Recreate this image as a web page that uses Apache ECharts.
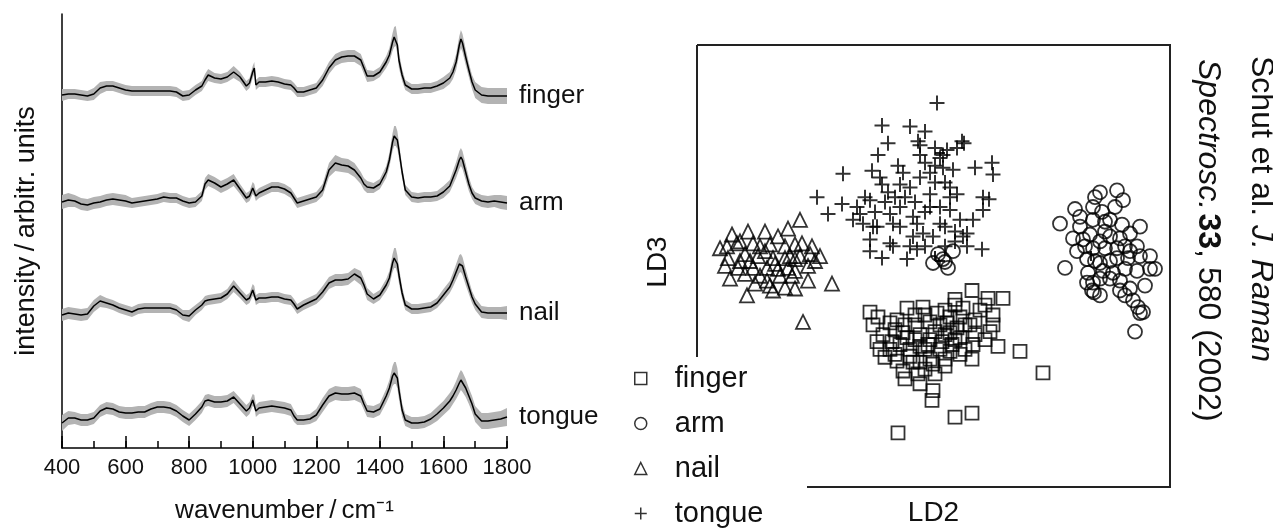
<!DOCTYPE html>
<html>
<head>
<meta charset="utf-8">
<title>Raman spectra of skin sites and LDA scores</title>
<script src="https://cdn.jsdelivr.net/npm/echarts@6/dist/echarts.min.js"></script>
<style>
  html, body { margin: 0; padding: 0; background: #fff; }
  #chart { width: 1273px; height: 532px; }
</style>
</head>
<body>
<div id="chart"></div>
<script>
// ---------------------------- DATA ----------------------------
// shared wavenumber grid of the mean spectra (cm-1)
var wavenumbers = [
  400, 420, 440, 460, 480, 500, 520, 540, 560, 580,
  600, 620, 640, 660, 680, 700, 720, 740, 760, 780,
  800, 820, 840, 850, 860, 880, 900, 920, 940, 960,
  980, 990, 1000, 1005, 1010, 1020, 1040, 1060, 1080, 1100,
  1120, 1130, 1140, 1160, 1180, 1200, 1220, 1240, 1260, 1280,
  1300, 1320, 1340, 1350, 1360, 1380, 1400, 1420, 1430, 1440,
  1445, 1450, 1455, 1460, 1470, 1480, 1500, 1520, 1540, 1560,
  1580, 1600, 1620, 1630, 1640, 1650, 1655, 1660, 1670, 1680,
  1690, 1700, 1720, 1740, 1760, 1780, 1800
];

// mean intensity (arbitr. units) and spread of each site
var fingerMean = [
  5, 6, 6, 5, 4, 6, 12, 14, 14, 12,
  10, 9, 9, 9, 9, 9, 9, 9, 8, 4,
  5, 10, 14, 20, 25, 22, 21, 23, 28, 23,
  14, 17, 28, 32, 15, 18, 18, 19, 18, 16,
  15, 12, 8, 8, 10, 12, 20, 32, 40, 43,
  44, 44, 40, 32, 24, 24, 28, 38, 45, 58,
  63, 64, 55, 40, 25, 15, 11, 11, 12, 12,
  14, 17, 22, 28, 38, 55, 61, 57, 43, 30,
  18, 10, 5, 4, 4, 4, 4
];
var fingerSpread = [
  6, 5, 5, 5, 5, 6, 6, 5, 5, 5,
  5, 5, 5, 5, 5, 5, 5, 5, 5, 5,
  5, 5, 5, 6, 6, 5, 5, 5, 6, 5,
  5, 5, 6, 6, 5, 5, 5, 5, 5, 5,
  5, 5, 5, 5, 5, 5, 6, 6, 6, 6,
  6, 6, 6, 6, 6, 5, 5, 6, 7, 9,
  10, 10, 9, 8, 6, 5, 5, 5, 5, 5,
  5, 6, 6, 7, 8, 9, 9, 9, 8, 7,
  7, 8, 8, 8, 8, 8, 8
];
var armMean = [
  8, 10, 9, 6, 5, 7, 8, 10, 11, 10,
  9, 7, 8, 9, 10, 11, 13, 12, 12, 9,
  7, 8, 14, 26, 30, 27, 23, 26, 30, 21,
  12, 14, 22, 20, 14, 17, 20, 23, 23, 21,
  17, 12, 7, 9, 11, 13, 20, 40, 47, 45,
  44, 40, 32, 26, 23, 22, 26, 38, 50, 68,
  74, 74, 70, 60, 38, 20, 13, 12, 13, 13,
  14, 18, 24, 32, 40, 50, 53, 50, 38, 26,
  17, 12, 9, 8, 9, 8, 7
];
var armSpread = [
  7, 7, 6, 6, 6, 6, 6, 6, 6, 6,
  6, 5, 5, 5, 5, 5, 5, 5, 5, 5,
  5, 5, 5, 6, 6, 6, 6, 6, 6, 5,
  5, 5, 6, 6, 5, 5, 5, 5, 5, 5,
  5, 5, 5, 5, 5, 5, 6, 7, 8, 7,
  7, 7, 6, 6, 6, 5, 5, 6, 7, 9,
  10, 10, 9, 8, 6, 5, 5, 5, 5, 5,
  5, 6, 6, 7, 8, 9, 9, 9, 8, 7,
  6, 6, 6, 6, 6, 7, 7
];
var nailMean = [
  5, 7, 6, 5, 6, 14, 19, 17, 15, 12,
  10, 8, 11, 12, 12, 12, 12, 12, 10, 5,
  4, 10, 15, 19, 20, 21, 22, 26, 34, 27,
  20, 22, 30, 28, 20, 22, 22, 23, 23, 21,
  20, 16, 11, 15, 18, 21, 28, 37, 40, 40,
  41, 46, 42, 35, 26, 21, 25, 35, 42, 57,
  62, 62, 56, 45, 27, 15, 11, 11, 12, 13,
  17, 25, 33, 40, 48, 56, 57, 54, 43, 33,
  23, 16, 8, 7, 7, 7, 7
];
var nailSpread = [
  6, 6, 6, 6, 6, 6, 6, 5, 5, 5,
  5, 5, 5, 5, 5, 5, 5, 5, 5, 5,
  6, 5, 5, 5, 5, 5, 5, 5, 6, 5,
  5, 5, 6, 6, 5, 5, 5, 5, 5, 5,
  5, 5, 5, 5, 5, 5, 6, 6, 6, 6,
  6, 6, 7, 6, 6, 5, 5, 6, 7, 9,
  10, 10, 9, 8, 6, 5, 5, 5, 5, 5,
  5, 6, 6, 7, 8, 9, 9, 9, 8, 7,
  6, 6, 6, 6, 6, 6, 7
];
var tongueMean = [
  7, 12, 12, 10, 10, 12, 19, 22, 21, 18,
  17, 17, 18, 18, 21, 23, 23, 22, 19, 14,
  10, 16, 23, 29, 30, 28, 28, 29, 33, 26,
  19, 22, 30, 29, 19, 22, 23, 24, 23, 22,
  20, 14, 10, 10, 11, 15, 25, 34, 37, 36,
  36, 37, 34, 26, 19, 18, 21, 34, 42, 54,
  57, 57, 52, 40, 20, 10, 7, 7, 8, 11,
  16, 22, 29, 34, 40, 47, 50, 48, 42, 34,
  26, 16, 9, 9, 10, 11, 13
];
var tongueSpread = [
  8, 7, 6, 6, 6, 6, 6, 6, 6, 6,
  6, 6, 6, 6, 6, 6, 6, 6, 6, 6,
  6, 6, 6, 6, 6, 6, 6, 6, 6, 6,
  6, 6, 6, 6, 6, 6, 6, 6, 6, 6,
  6, 6, 5, 5, 5, 6, 7, 7, 7, 7,
  7, 7, 7, 6, 6, 6, 6, 7, 8, 10,
  11, 11, 10, 9, 7, 6, 6, 6, 6, 6,
  7, 7, 8, 8, 9, 10, 10, 10, 9, 8,
  8, 8, 8, 8, 8, 8, 9
];

var siteNames = ['finger', 'arm', 'nail', 'tongue'];
// vertical offsets used to stack the spectra
var siteOffsets = [348, 238, 128, 18];

var ld2TickValues = [0, 15.6];
var ld3TickValues = [0, 11];

// discriminant scores [LD2, LD3]
var fingerScores = [
  [3.7, -3.0], [5.3, -3.8], [6.8, -3.8], [2.0, -3.9], [-6.5, -5.2], [-2.8, -4.8],
  [-1.2, -4.7], [0.2, -5.3], [2.8, -4.8], [5.8, -5.5], [4.5, -5.0], [1.5, -5.7],
  [-6.2, -6.5], [-3.8, -6.0], [-2.0, -6.5], [-0.5, -6.2], [1.2, -6.3], [2.2, -6.8],
  [3.0, -6.5], [5.5, -7.2], [-5.2, -7.5], [-3.2, -7.3], [-1.5, -7.5], [0.0, -7.2],
  [1.5, -7.3], [-5.8, -8.2], [-4.3, -8.2], [-2.8, -7.8], [-0.7, -8.5], [0.7, -8.2],
  [1.7, -8.5], [2.5, -7.8], [3.8, -8.5], [6.3, -8.7], [8.5, -9.2], [-5.0, -9.8],
  [-3.8, -10.2], [-2.2, -10.3], [-0.5, -10.0], [-0.2, -10.5], [1.0, -10.0], [2.5, -9.5],
  [3.7, -10.0], [-3.2, -11.2], [-1.7, -11.5], [0.0, -11.5], [-0.2, -13.2], [-0.3, -14.2],
  [2.0, -15.9], [3.7, -15.5], [-3.7, -17.5], [10.8, -11.4], [-2.0, -8.0], [-1.0, -9.0],
  [0.5, -9.0], [2.0, -8.0], [1.0, -7.5], [-0.5, -8.0], [-1.5, -8.7], [-2.5, -9.0],
  [-3.5, -8.5], [-4.5, -9.0], [-5.5, -9.0], [-3.0, -6.5], [-1.0, -5.5], [1.0, -5.0],
  [2.5, -5.7], [0.5, -6.5], [-2.0, -5.5], [1.5, -9.2], [3.0, -9.0], [4.0, -7.5],
  [5.0, -8.0], [-4.0, -9.5], [-2.5, -9.7], [-1.5, -10.3], [1.0, -10.7], [-1.0, -11.0],
  [-4.0, -7.0], [-5.7, -5.7], [2.0, -4.5], [4.0, -6.0], [5.0, -4.5], [-3.0, -12.0],
  [-1.5, -12.5], [3.5, -6.5], [-4.5, -6.3], [5.8, -6.5]
];
var armScores = [
  [16.5, 7.0], [18.2, 7.2], [18.8, 6.2], [14.0, 5.3], [15.8, 5.5], [16.7, 5.0],
  [12.5, 3.8], [14.5, 3.5], [15.8, 4.2], [17.5, 4.2], [18.7, 3.7], [20.5, 3.5],
  [13.8, 2.3], [15.5, 2.7], [17.0, 3.0], [18.5, 2.3], [19.5, 2.8], [20.2, 1.5],
  [14.2, 1.0], [15.8, 1.3], [17.0, 1.3], [18.2, 1.3], [13.0, -0.7], [15.2, 0.2],
  [16.5, -0.2], [18.2, 0.3], [19.3, 0.3], [20.5, 0.5], [21.5, -0.8], [15.3, -1.2],
  [16.8, -1.0], [17.8, -1.2], [19.0, -0.8], [20.2, -1.0], [15.7, -3.0], [15.8, -2.2],
  [17.5, -1.8], [18.5, -3.0], [19.5, -2.8], [19.8, -4.0], [20.3, -4.7], [20.5, -5.3],
  [20.0, -7.2], [15.2, -2.2], [14.8, 2.2], [22.0, -0.8], [20.8, -5.2], [15.9, -3.2],
  [16.5, 2.0], [17.5, 2.5], [19.0, 1.5], [16.0, 0.0], [17.5, 0.0], [18.5, -2.0],
  [16.5, -1.8], [19.5, 1.0], [15.0, 1.5], [17.0, 4.0], [18.0, 5.5], [16.0, 6.5],
  [14.5, 4.5], [21.0, -2.5], [21.5, 0.5], [19.0, -3.5], [16.5, -3.5],
  [0.8, 0.2], [0.3, 0.7], [1.3, -0.7], [1.8, 1.0], [-0.2, -0.2], [1.0, -0.1]
];
var nailScores = [
  [-13.5, 4.2], [-14.7, 3.3], [-18.7, 3.0], [-20.3, 2.7], [-17.0, 3.0], [-15.7, 2.5],
  [-21.5, 1.3], [-19.8, 1.8], [-18.2, 1.8], [-16.5, 1.7], [-14.0, 1.7], [-13.3, 1.8],
  [-12.5, 0.7], [-11.5, 0.5], [-20.7, 0.3], [-19.0, 0.7], [-17.7, 0.5], [-16.2, 0.3],
  [-14.5, 0.5], [-14.0, 0.2], [-19.7, -0.7], [-18.2, -0.7], [-16.8, -0.7], [-15.7, -0.8],
  [-14.7, -0.7], [-12.7, -0.5], [-20.5, -1.8], [-19.0, -1.3], [-16.8, -2.0], [-15.5, -1.5],
  [-14.3, -1.5], [-12.7, -2.0], [-10.3, -2.3], [-16.2, -3.0], [-15.0, -2.7], [-14.0, -2.8],
  [-18.8, -3.5], [-13.2, -6.2], [-20.8, 1.5], [-19.5, 2.0], [-17.5, 1.5], [-15.0, 1.5],
  [-18.5, 0.0], [-17.0, 1.0], [-16.0, -0.3], [-17.5, -1.5], [-19.5, 0.0], [-21.0, -0.5],
  [-14.0, -1.0], [-12.0, 0.0], [-15.0, 0.3], [-18.0, -2.3], [-16.5, -2.5], [-13.5, 0.5],
  [-12.3, 1.5]
];
var tongueScores = [
  [0.2, 16.1], [-5.3, 13.8], [-2.5, 13.7], [-1.0, 13.2], [-4.7, 12.0], [-1.7, 12.2],
  [2.7, 12.2], [-5.7, 10.8], [-1.5, 10.8], [1.2, 11.3], [2.2, 11.5], [-3.7, 9.7],
  [0.0, 9.7], [-9.2, 8.9], [-6.3, 9.2], [-5.5, 8.5], [4.0, 9.5], [5.7, 10.0],
  [5.8, 8.8], [1.8, 9.3], [0.8, 9.5], [-11.8, 6.5], [-9.3, 5.8], [-10.7, 4.8],
  [-6.5, 6.2], [-5.3, 7.8], [-3.5, 7.8], [-2.5, 7.5], [-0.5, 6.8], [1.5, 7.5],
  [2.2, 6.8], [4.8, 6.5], [-7.5, 4.8], [-8.2, 4.2], [-6.2, 3.5], [-4.5, 4.8],
  [-3.5, 3.5], [-0.5, 5.5], [0.5, 5.5], [1.5, 5.2], [4.8, 5.2], [3.8, 4.2],
  [2.5, 4.2], [0.5, 3.8], [-1.8, 3.8], [-4.2, 3.8], [-6.5, 2.2], [-4.5, 1.8],
  [-2.2, 2.5], [-1.2, 2.8], [-0.2, 2.5], [2.8, 2.5], [-6.5, 1.0], [-5.3, 0.3],
  [-4.2, 1.5], [-2.8, 0.2], [-2.5, 1.5], [-1.8, 1.2], [3.2, 1.5], [4.7, 1.2],
  [-2.2, 4.5], [-5.8, 3.5], [-7.8, 5.5], [-7.2, 3.8], [2.9, 12.0], [3.2, 2.8],
  [5.4, 6.3], [-3.0, 6.5], [-2.0, 6.0], [-1.0, 5.0], [0.0, 8.0], [1.0, 8.0],
  [1.5, 6.5], [1.0, 3.5], [2.0, 3.0], [-3.5, 5.5], [-4.0, 6.5], [-5.0, 6.0],
  [-6.0, 5.0], [-7.0, 6.5], [-1.0, 1.5], [1.0, 1.5], [2.0, 2.0], [-1.5, 8.5],
  [-0.5, 9.0], [-3.2, 9.0], [-4.7, 7.0], [0.5, 10.5], [0.0, 11.5], [-1.0, 10.0],
  [-1.5, 11.8], [0.8, 10.8]
];

// ---------------------------- CHART ----------------------------
var FONT = "'Liberation Sans', Arial, sans-serif";
var GRAY = '#b3b3b3';

var chart = echarts.init(document.getElementById('chart'), null, { renderer: 'canvas' });

var means = [fingerMean, armMean, nailMean, tongueMean];
var spreads = [fingerSpread, armSpread, nailSpread, tongueSpread];

// gray band = mean +/- spread, drawn as one polygon per site
function renderBand(params, api) {
  var s = api.value(2), upper = [], lower = [], k, m, d;
  for (k = 0; k < wavenumbers.length; k++) {
    m = siteOffsets[s] + means[s][k];
    d = spreads[s][k];
    upper.push(api.coord([wavenumbers[k], m + d]));
    lower.unshift(api.coord([wavenumbers[k], m - d]));
  }
  return {
    type: 'polygon', silent: true,
    shape: { points: upper.concat(lower) },
    style: { fill: GRAY, stroke: null }
  };
}

var series = [];
var i, k;

series.push({
  type: 'custom', name: 'spread', xAxisIndex: 0, yAxisIndex: 0,
  renderItem: renderBand, silent: true, z: 1,
  data: siteNames.map(function (n, j) { return [400, siteOffsets[j], j]; })
});

// mean spectra with their site label at the right end
for (i = 0; i < siteNames.length; i++) {
  var line = [];
  for (k = 0; k < wavenumbers.length; k++) {
    line.push([wavenumbers[k], siteOffsets[i] + means[i][k]]);
  }
  series.push({
    type: 'line', name: siteNames[i] + ' spectrum',
    xAxisIndex: 0, yAxisIndex: 0, data: line, symbol: 'none', silent: true,
    lineStyle: { color: '#000', width: 1.5 }, z: 3,
    endLabel: {
      show: true, formatter: siteNames[i], distance: 12,
      fontFamily: FONT, fontSize: 26, color: '#111'
    }
  });
}

// LD score scatter
var plusPath = 'path://M0,6H12M6,0V12';

function scoreSeries(name, data, symbol, size, width) {
  return {
    type: 'scatter', name: name, xAxisIndex: 1, yAxisIndex: 1,
    data: data, symbol: symbol, symbolSize: size, silent: true,
    itemStyle: { color: 'rgba(0,0,0,0)', borderColor: '#000', borderWidth: width },
    z: 4
  };
}
series.push(scoreSeries('nail', nailScores, 'triangle', 14, 1.8));
series.push(scoreSeries('tongue', tongueScores, plusPath, 15, 2));
series.push(scoreSeries('finger', fingerScores, 'rect', 13, 1.8));
series.push(scoreSeries('arm', armScores, 'circle', 14, 1.8));

var option = {
  animation: false,
  backgroundColor: '#fff',
  textStyle: { fontFamily: FONT, color: '#111' },
  grid: [
    { left: 62, top: 14, width: 445, height: 434 },
    { left: 697, top: 45, width: 473, height: 442 }
  ],
  xAxis: [
    {
      // labelled wavenumber axis, long ticks every 200
      type: 'value', gridIndex: 0, position: 'bottom', min: 400, max: 1800, interval: 200,
      name: 'wavenumber\u2009/\u2009cm\u207B\u00B9', nameLocation: 'middle', nameGap: 50,
      nameTextStyle: { fontSize: 26, color: '#111' },
      axisLine: { lineStyle: { color: '#000', width: 1.5 } },
      axisTick: { inside: true, length: 12, lineStyle: { color: '#000', width: 1.5 } },
      axisLabel: {
        margin: 9, fontSize: 22, color: '#111',
        formatter: function (v) { return String(v); }
      },
      splitLine: { show: false }
    },
    {
      type: 'value', gridIndex: 1, min: -23.8, max: 23.5,
      name: 'LD2', nameLocation: 'middle', nameGap: 20,
      nameTextStyle: { fontSize: 28, color: '#111' },
      axisLine: { show: false },
      axisTick: { show: true, inside: true, length: 10, customValues: ld2TickValues,
        lineStyle: { color: '#222', width: 2 } },
      axisLabel: { show: false },
      splitLine: { show: false }
    },
    {
      // short ticks every 100 on the wavenumber axis
      type: 'value', gridIndex: 0, position: 'bottom', offset: 0,
      min: 400, max: 1800, interval: 100,
      axisLine: { show: false },
      axisTick: { inside: true, length: 7, lineStyle: { color: '#000', width: 1.5 } },
      axisLabel: { show: false },
      splitLine: { show: false }
    }
  ],
  yAxis: [
    {
      type: 'value', gridIndex: 0, min: 0, max: 434,
      name: 'intensity\u2009/\u2009arbitr. units', nameLocation: 'middle', nameGap: 22,
      nameTextStyle: { fontSize: 27, color: '#111' },
      axisLine: { show: true, lineStyle: { color: '#000', width: 1.5 } },
      axisTick: { show: false },
      axisLabel: { show: false },
      splitLine: { show: false }
    },
    {
      type: 'value', gridIndex: 1, min: -22.2, max: 22.0,
      name: 'LD3', nameLocation: 'middle', nameGap: 25,
      nameTextStyle: { fontSize: 28, color: '#111' },
      axisLine: { show: false },
      axisTick: { show: true, inside: true, length: 10, customValues: ld3TickValues,
        lineStyle: { color: '#222', width: 2 } },
      axisLabel: { show: false },
      splitLine: { show: false }
    }
  ],
  legend: {
    orient: 'vertical', left: 634, top: 364, height: 200, padding: 0,
    data: ['finger', 'arm', 'nail', 'tongue'],
    itemWidth: 12, itemHeight: 12, itemGap: 16,
    selectedMode: false,
    itemStyle: { borderWidth: 1.5 },
    textStyle: { fontSize: 29, color: '#111', padding: [0, 0, 0, 23] }
  },
  graphic: [
    // frame of the score plot, open at the lower left where the legend sits
    {
      type: 'polyline', silent: true,
      shape: { points: [[697, 45], [1170, 45], [1170, 487], [807, 487]] },
      style: { stroke: '#222', lineWidth: 2, fill: null }
    },
    {
      type: 'polyline', silent: true,
      shape: { points: [[697, 45], [697, 357]] },
      style: { stroke: '#222', lineWidth: 2, fill: null }
    },
    // citation, set vertically
    {
      type: 'text', x: 1261, y: 56, rotation: -Math.PI / 2, silent: true,
      style: {
        text: '{n|Schut et al. }{i|J. Raman}',
        align: 'left', verticalAlign: 'middle',
        rich: {
          n: { fontFamily: FONT, fontSize: 32, fill: '#111' },
          i: { fontFamily: FONT, fontSize: 32, fontStyle: 'italic', fill: '#111' }
        }
      }
    },
    {
      type: 'text', x: 1208, y: 59, rotation: -Math.PI / 2, silent: true,
      style: {
        text: '{i|Spectrosc.} {b|33}{n|, 580 (2002)}',
        align: 'left', verticalAlign: 'middle',
        rich: {
          n: { fontFamily: FONT, fontSize: 32, fill: '#111' },
          i: { fontFamily: FONT, fontSize: 32, fontStyle: 'italic', fill: '#111' },
          b: { fontFamily: FONT, fontSize: 32, fontWeight: 'bold', fill: '#111' }
        }
      }
    }
  ],
  series: series
};

chart.setOption(option);
</script>
</body>
</html>
